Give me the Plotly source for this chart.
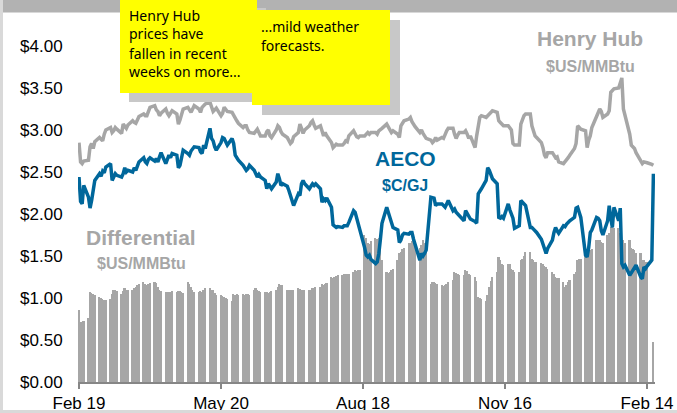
import pandas as pd
import plotly.graph_objects as go

# ---------------- data (business days, Feb 19 2013 .. Feb 18 2014) ----------------
dates = pd.bdate_range("2013-02-19", "2014-02-18")

henry_hub = [
    2.85, 2.62, 2.60, 2.63,
    2.64, 2.80, 2.84, 2.78, 2.86,
    2.91, 2.89, 2.87, 2.95, 3.00,
    3.03, 2.97, 2.99, 3.03, 3.01,
    2.96, 3.07, 3.05, 3.02, 3.06,
    3.11, 3.09, 3.08, 3.12, 3.16,
    3.19, 3.17, 3.17, 3.23, 3.27,
    3.29, 3.24, 3.22, 3.17, 3.20,
    3.25, 3.20, 3.17, 3.20, 3.23,
    3.19, 3.07, 3.12, 3.19, 3.25,
    3.27, 3.24, 3.21, 3.25, 3.29,
    3.25, 3.21, 3.27, 3.29, 3.31,
    3.33, 3.27, 3.22, 3.24, 3.26,
    3.17, 3.20, 3.27, 3.25, 3.22,
    3.21, 3.17, 3.14, 3.11, 3.08,
    3.03, 3.05, 3.05, 3.00, 2.97,
    2.96, 2.99, 3.01, 2.97, 2.93,
    2.93, 2.98, 3.00, 2.93, 2.91,
    3.00, 3.05, 3.03, 2.98, 2.95,
    2.91, 2.88, 2.84, 2.86, 2.92,
    2.97, 3.07, 3.02, 2.96, 3.00,
    3.05, 3.09, 3.11, 3.06, 3.02,
    3.05, 3.00, 2.93, 2.97, 2.93,
    2.85, 2.79, 2.81, 2.83, 2.82,
    2.82, 2.84, 2.87, 2.86, 2.93,
    2.99, 2.95, 2.92, 2.91, 2.93,
    2.93, 2.95, 2.97, 2.95, 2.97,
    2.97, 2.95, 2.99, 3.00, 3.02,
    3.07, 3.03, 2.99, 2.97, 2.99,
    2.95, 2.91, 3.05, 3.08, 3.11,
    3.13, 3.15, 3.10, 3.07, 3.04,
    2.97, 3.00, 2.96, 2.93, 2.90,
    2.88, 2.85, 2.87, 2.91, 2.88,
    2.91, 2.90, 2.95, 2.99, 3.02,
    3.02, 2.95, 2.90, 2.94, 2.97,
    2.97, 2.99, 2.95, 2.90, 2.93,
    2.79, 2.93, 3.02, 3.15, 3.17,
    3.15, 3.17, 3.19, 3.21, 3.23,
    3.21, 3.11, 3.09, 3.07, 3.05,
    3.05, 3.03, 3.00, 2.84, 2.82,
    2.82, 3.07, 3.12, 3.17, 3.19,
    3.19, 3.05, 2.99, 2.93, 2.91,
    2.85, 2.79, 2.70, 2.67, 2.73,
    2.73, 2.70, 2.67, 2.68, 2.62,
    2.60, 2.62, 2.65, 2.67, 2.70,
    2.78, 2.84, 3.05, 3.03, 3.01,
    2.99, 2.79, 2.88, 2.93, 3.03,
    3.17, 3.21, 3.25, 3.22, 3.15,
    3.19, 3.23, 3.45, 3.47, 3.49,
    3.50, 3.56, 3.62, 3.25, 3.17,
    2.95, 2.82, 2.80, 2.78, 2.73,
    2.64, 2.60, 2.62, 2.61, 2.61,
    2.59, 2.58,
]

aeco = [
    2.44, 2.15, 2.12, 2.34,
    2.20, 2.07, 2.16, 2.30, 2.40,
    2.48, 2.45, 2.51, 2.49, 2.56,
    2.60, 2.40, 2.45, 2.48, 2.46,
    2.44, 2.48, 2.55, 2.50, 2.52,
    2.50, 2.55, 2.52, 2.58, 2.62,
    2.67, 2.62, 2.60, 2.65, 2.67,
    2.63, 2.66, 2.62, 2.68, 2.73,
    2.60, 2.64, 2.70, 2.67, 2.72,
    2.70, 2.55, 2.58, 2.68, 2.76,
    2.72, 2.70, 2.75, 2.78, 2.80,
    2.79, 2.74, 2.72, 2.82, 2.78,
    3.02, 2.90, 2.87, 2.80, 2.76,
    2.85, 2.91, 2.90, 2.86, 2.82,
    2.90, 2.84, 2.70, 2.66, 2.64,
    2.58, 2.55, 2.52, 2.54, 2.58,
    2.52, 2.48, 2.44, 2.47, 2.44,
    2.40, 2.30, 2.36, 2.32, 2.30,
    2.38, 2.48, 2.42, 2.34, 2.36,
    2.33, 2.28, 2.22, 2.14, 2.10,
    2.24, 2.22, 2.36, 2.40, 2.36,
    2.30, 2.33, 2.36, 2.34, 2.36,
    2.30, 2.14, 2.18, 2.16, 2.19,
    2.08, 1.87, 1.86, 1.84, 1.85,
    1.84, 1.86, 1.86, 1.86, 1.90,
    2.04, 2.02, 1.95, 1.92, 1.81,
    1.60, 1.51, 1.49, 1.51, 1.46,
    1.41, 1.43, 1.53, 1.70, 1.89,
    2.08, 2.02, 1.96, 1.90, 1.84,
    1.81, 1.66, 1.69, 1.75, 1.77,
    1.76, 1.78, 1.78, 1.70, 1.64,
    1.45, 1.53, 1.50, 1.53, 1.57,
    2.20, 2.19, 2.19, 2.10, 2.12,
    2.12, 2.10, 2.08, 2.12, 2.16,
    2.04, 2.06, 2.02, 2.00, 1.98,
    1.92, 2.04, 2.00, 1.96, 1.94,
    1.91, 1.89, 2.24, 2.28, 2.30,
    2.40, 2.55, 2.52, 2.48, 2.42,
    2.36, 1.96, 1.95, 1.97, 1.95,
    2.12, 2.05, 2.00, 1.95, 1.83,
    1.86, 2.16, 2.14, 2.12, 2.10,
    1.84, 1.84, 1.82, 1.80, 1.78,
    1.70, 1.65, 1.58, 1.53, 1.59,
    1.69, 1.78, 1.84, 1.80, 1.77,
    1.86, 1.85, 1.88, 1.90, 1.92,
    1.96, 2.07, 2.08, 2.02, 1.96,
    1.51, 1.49, 1.60, 1.78, 1.81,
    1.96, 1.95, 1.92, 1.80, 1.75,
    1.92, 2.10, 1.95, 1.84, 2.08,
    1.92, 2.07, 1.41, 1.37, 1.39,
    1.27, 1.30, 1.33, 1.36, 1.39,
    1.25, 1.23, 1.37, 1.35, 1.38,
    1.45, 2.48,
]

differential = [
    0.86, 0.72, 0.71, 0.73,
    0.76, 1.07, 1.06, 1.05, 1.04,
    1.01, 1.00, 0.99, 0.98, 0.98,
    0.99, 1.05, 1.09, 1.09, 1.08,
    1.05, 1.08, 1.12, 1.10, 1.09,
    1.10, 1.12, 1.13, 1.15, 1.17,
    1.19, 1.17, 1.16, 1.17, 1.18,
    1.19, 1.18, 1.13, 1.10, 1.08,
    1.07, 1.07, 1.07, 1.07, 1.08,
    1.07, 1.08, 1.08, 1.07, 1.06,
    1.19, 1.17, 1.13, 1.10, 1.07,
    1.07, 1.08, 1.07, 1.10, 1.12,
    1.12, 1.10, 1.09, 1.06, 1.03,
    1.03, 1.02, 1.01, 1.00, 0.99,
    0.97, 1.05, 1.04, 1.05, 1.04,
    1.05, 1.04, 1.05, 1.05, 1.04,
    1.09, 1.12, 1.10, 1.08, 1.07,
    1.07, 1.07, 1.06, 1.07, 1.08,
    1.09, 1.13, 1.17, 1.16, 1.15,
    1.10, 1.09, 1.09, 1.10, 1.09,
    1.12, 1.11, 1.09, 1.10, 1.09,
    1.09, 1.10, 1.12, 1.12, 1.13,
    1.13, 1.17, 1.16, 1.17, 1.18,
    1.25, 1.24, 1.25, 1.26, 1.27,
    1.27, 1.28, 1.28, 1.29, 1.28,
    1.31, 1.33, 1.32, 1.33, 1.33,
    1.75, 1.72, 1.66, 1.64, 1.68,
    1.72, 1.70, 1.72, 1.58, 1.45,
    1.31, 1.30, 1.31, 1.33, 1.35,
    1.45, 1.53, 1.55, 1.58, 1.60,
    1.65, 1.66, 1.68, 1.69, 1.66,
    1.59, 1.63, 1.69, 1.66, 1.60,
    1.17, 1.19, 1.19, 1.18, 1.17,
    1.15, 1.14, 1.15, 1.17, 1.19,
    1.22, 1.31, 1.30, 1.28, 1.27,
    1.27, 1.33, 1.32, 1.28, 1.27,
    1.25, 1.20, 1.01, 1.00, 0.99,
    0.97, 1.03, 1.13, 1.20, 1.25,
    1.31, 1.49, 1.45, 1.41, 1.39,
    1.41, 1.40, 1.35, 1.33, 1.31,
    1.31, 1.45, 1.47, 1.50, 1.55,
    1.55, 1.47, 1.45, 1.43, 1.43,
    1.42, 1.41, 1.38, 1.37, 1.35,
    1.31, 1.28, 1.25, 1.24, 1.24,
    1.19, 1.13, 1.15, 1.19, 1.21,
    1.29, 1.31, 1.45, 1.46, 1.47,
    1.53, 1.53, 1.56, 1.57, 1.58,
    1.69, 1.69, 1.69, 1.67, 1.66,
    1.75, 1.77, 1.84, 1.84, 1.83,
    1.83, 1.77, 1.69, 1.69, 1.66,
    1.69, 1.60, 1.58, 1.57, 1.53,
    1.53, 1.45, 1.45, 1.43, 1.43,
    None, 0.48,
]

tick_dates = ["2013-02-19", "2013-05-20", "2013-08-18", "2013-11-16", "2014-02-14"]
tick_labels = ["Feb 19", "May 20", "Aug 18", "Nov 16", "Feb 14"]
y_ticks = [0, 0.5, 1.0, 1.5, 2.0, 2.5, 3.0, 3.5, 4.0]
y_tick_labels = ["$0.00", "$0.50", "$1.00", "$1.50", "$2.00", "$2.50", "$3.00", "$3.50", "$4.00"]

note_1 = ["Henry Hub", "prices have", "fallen in recent", "weeks on more..."]
note_2 = ["...mild weather", "forecasts."]

# ---------------- styling ----------------
W, H = 677, 413
ML, MR, MT, MB = 78, 22, 46, 31
PW, PH = W - ML - MR, H - MT - MB
GRAY = "#a6a6a6"
BLUE = "#00679b"
YELLOW = "#ffff00"
SHADOW = "#c8c8c8"
FONT = "Liberation Sans, Arial, sans-serif"
NOTE_FONT = "Comic Sans MS, Noto Sans, sans-serif"


def xp(px):
    return (px - ML) / PW


def yp(py):
    return (H - MB - py) / PH


fig = go.Figure()
fig.add_trace(go.Bar(x=dates, y=differential, width=86400000,
                     marker=dict(color=GRAY, line=dict(width=0)), name="Differential"))
fig.add_trace(go.Scatter(x=dates, y=henry_hub, mode="lines", connectgaps=True,
                         line=dict(color=GRAY, width=3.5), name="Henry Hub"))
fig.add_trace(go.Scatter(x=dates, y=aeco, mode="lines", connectgaps=True,
                         line=dict(color=BLUE, width=3.5), name="AECO"))

shapes = []


def rect(x0, y0, x1, y1, color, layer="above"):
    shapes.append(dict(type="rect", xref="paper", yref="paper",
                       x0=xp(x0), x1=xp(x1), y0=yp(y1), y1=yp(y0),
                       fillcolor=color, line=dict(width=0), layer=layer))


# frame
rect(3, 0, 677, 12.5, "#b2b2b2")
rect(0, 0, 3, 413, "#d9d9d9")
rect(0, 410, 677, 413, "#d9d9d9")
# sticky notes
rect(129, 8, 266, 102, SHADOW)
rect(120, 0, 257, 93, YELLOW)
rect(262, 20, 400, 115, SHADOW)
rect(252, 10, 390, 105, YELLOW)

annotations = []


def label(text, px, py, size, color, bold=False, font=FONT, xanchor="center"):
    annotations.append(dict(text=f"<b>{text}</b>" if bold else text,
                            xref="paper", yref="paper", x=xp(px), y=yp(py),
                            xanchor=xanchor, yanchor="middle", showarrow=False,
                            borderpad=0,
                            font=dict(family=font, size=size, color=color)))


for i, t in enumerate(note_1):
    label(t, 128, 15 + 19 * i, 14, "#000000", font=NOTE_FONT, xanchor="left")
for i, t in enumerate(note_2):
    label(t, 260, 27 + 18.5 * i, 14, "#000000", font=NOTE_FONT, xanchor="left")

label("Henry Hub", 590, 38, 21, GRAY, bold=True)
label("$US/MMBtu", 590, 66, 16, GRAY, bold=True)
label("AECO", 405, 158, 21, BLUE, bold=True)
label("$C/GJ", 405, 185, 16, BLUE, bold=True)
label("Differential", 141, 237, 21, GRAY, bold=True)
label("$US/MMBtu", 141, 263, 16, GRAY, bold=True)

fig.update_layout(
    width=W, height=H,
    margin=dict(l=ML, r=MR, t=MT, b=MB, pad=0, autoexpand=False),
    paper_bgcolor="white", plot_bgcolor="white",
    showlegend=False, bargap=0,
    font=dict(family=FONT, size=17, color="#000000"),
    shapes=shapes, annotations=annotations,
    xaxis=dict(type="date", range=["2013-02-18 08:48", "2014-02-19 00:24"],
               tickvals=tick_dates, ticktext=tick_labels, automargin=False,
               showgrid=False, zeroline=False, showline=True,
               linecolor="#868686", linewidth=1.5,
               ticks="outside", ticklen=5, tickcolor="#868686", tickwidth=1.5,
               tickfont=dict(family=FONT, size=17, color="#000000")),
    yaxis=dict(range=[0, 4], tickvals=y_ticks, ticktext=y_tick_labels, automargin=False,
               showgrid=False, zeroline=False, showline=False,
               ticks="outside", ticklen=11, tickcolor="rgba(0,0,0,0)",
               tickfont=dict(family=FONT, size=17, color="#000000")),
)

fig.write_html("out.html", config={"displayModeBar": False},
               post_script="document.body.style.margin='0';")
